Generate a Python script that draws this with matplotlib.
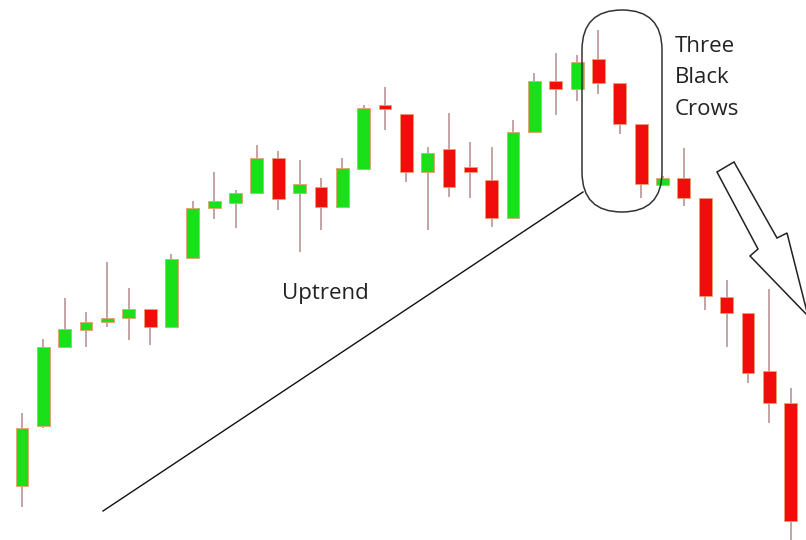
import matplotlib
matplotlib.use('Agg')
import matplotlib.pyplot as plt
from matplotlib.patches import FancyBboxPatch, Polygon
import numpy as np

# precios (escala arbitraria)
abre   = [54, 114, 193, 210, 218, 222, 231, 213, 282, 332, 337, 347, 382, 347, 353, 333, 371, 435, 426,
          368, 391, 373, 360, 322, 408, 459, 451, 481, 457, 416, 355, 362, 342, 243, 227, 169, 137]
cierre = [112, 193, 211, 218, 222, 231, 213, 281, 332, 339, 347, 382, 341, 356, 333, 372, 432, 431, 368,
          387, 353, 368, 322, 408, 459, 451, 478, 457, 416, 356, 362, 342, 244, 227, 167, 137, 19]
maximo = [127, 201, 242, 228, 278, 252, 231, 286, 339, 368, 350, 395, 389, 380, 362, 382, 435, 453, 426,
          393, 427, 398, 393, 420, 467, 487, 485, 510, 457, 416, 364, 392, 342, 260, 227, 251, 152]
minimo = [33, 112, 193, 193, 213, 200, 195, 213, 282, 321, 312, 347, 330, 288, 310, 333, 371, 410, 358,
          310, 343, 342, 313, 322, 408, 425, 439, 446, 406, 342, 355, 334, 230, 193, 157, 117, -5]

abre = np.array(abre)
cierre = np.array(cierre)
x = np.arange(len(abre))
sube = cierre >= abre
colores = np.where(sube, '#19E019', '#F20D0D')

fig = plt.figure(figsize=(8.06, 5.40), dpi=100)
ax = fig.add_axes([0, 0, 1, 1])
ax.vlines(x, minimo, maximo, color='#B48C8C', linewidth=1.1, zorder=1)
ax.bar(x, cierre - abre, bottom=abre, width=0.6, color=colores,
       edgecolor='#E8A070', linewidth=0.6, zorder=2)
ax.set_xlim(-1.03, 36.72)
ax.set_ylim(0, 540)
ax.axis('off')

# capa de anotaciones en pixeles
capa = fig.add_axes([0, 0, 1, 1])
capa.set_xlim(0, 806)
capa.set_ylim(540, 0)
capa.axis('off')
capa.patch.set_alpha(0)

capa.plot([103, 583], [511, 192], color='#111111', linewidth=1)
capa.add_patch(FancyBboxPatch((582, 10), 80, 202, boxstyle='round,pad=0,rounding_size=40',
                              facecolor='none', edgecolor='#333333', linewidth=1.1))
flecha = [(717, 172), (734, 162), (777, 238), (787, 233), (808, 316), (750, 256), (758, 249)]
capa.add_patch(Polygon(flecha, closed=True, facecolor='white', edgecolor='#222222', linewidth=1.1))

capa.text(282, 299, 'Uptrend', fontsize=16, family='Open Sans', color='#222222', va='baseline')
for txt, yb in zip(['Three', 'Black', 'Crows'], [52, 83, 115]):
    capa.text(675, yb, txt, fontsize=16, family='Open Sans', color='#222222', va='baseline')

plt.savefig('out.png', dpi=100)
